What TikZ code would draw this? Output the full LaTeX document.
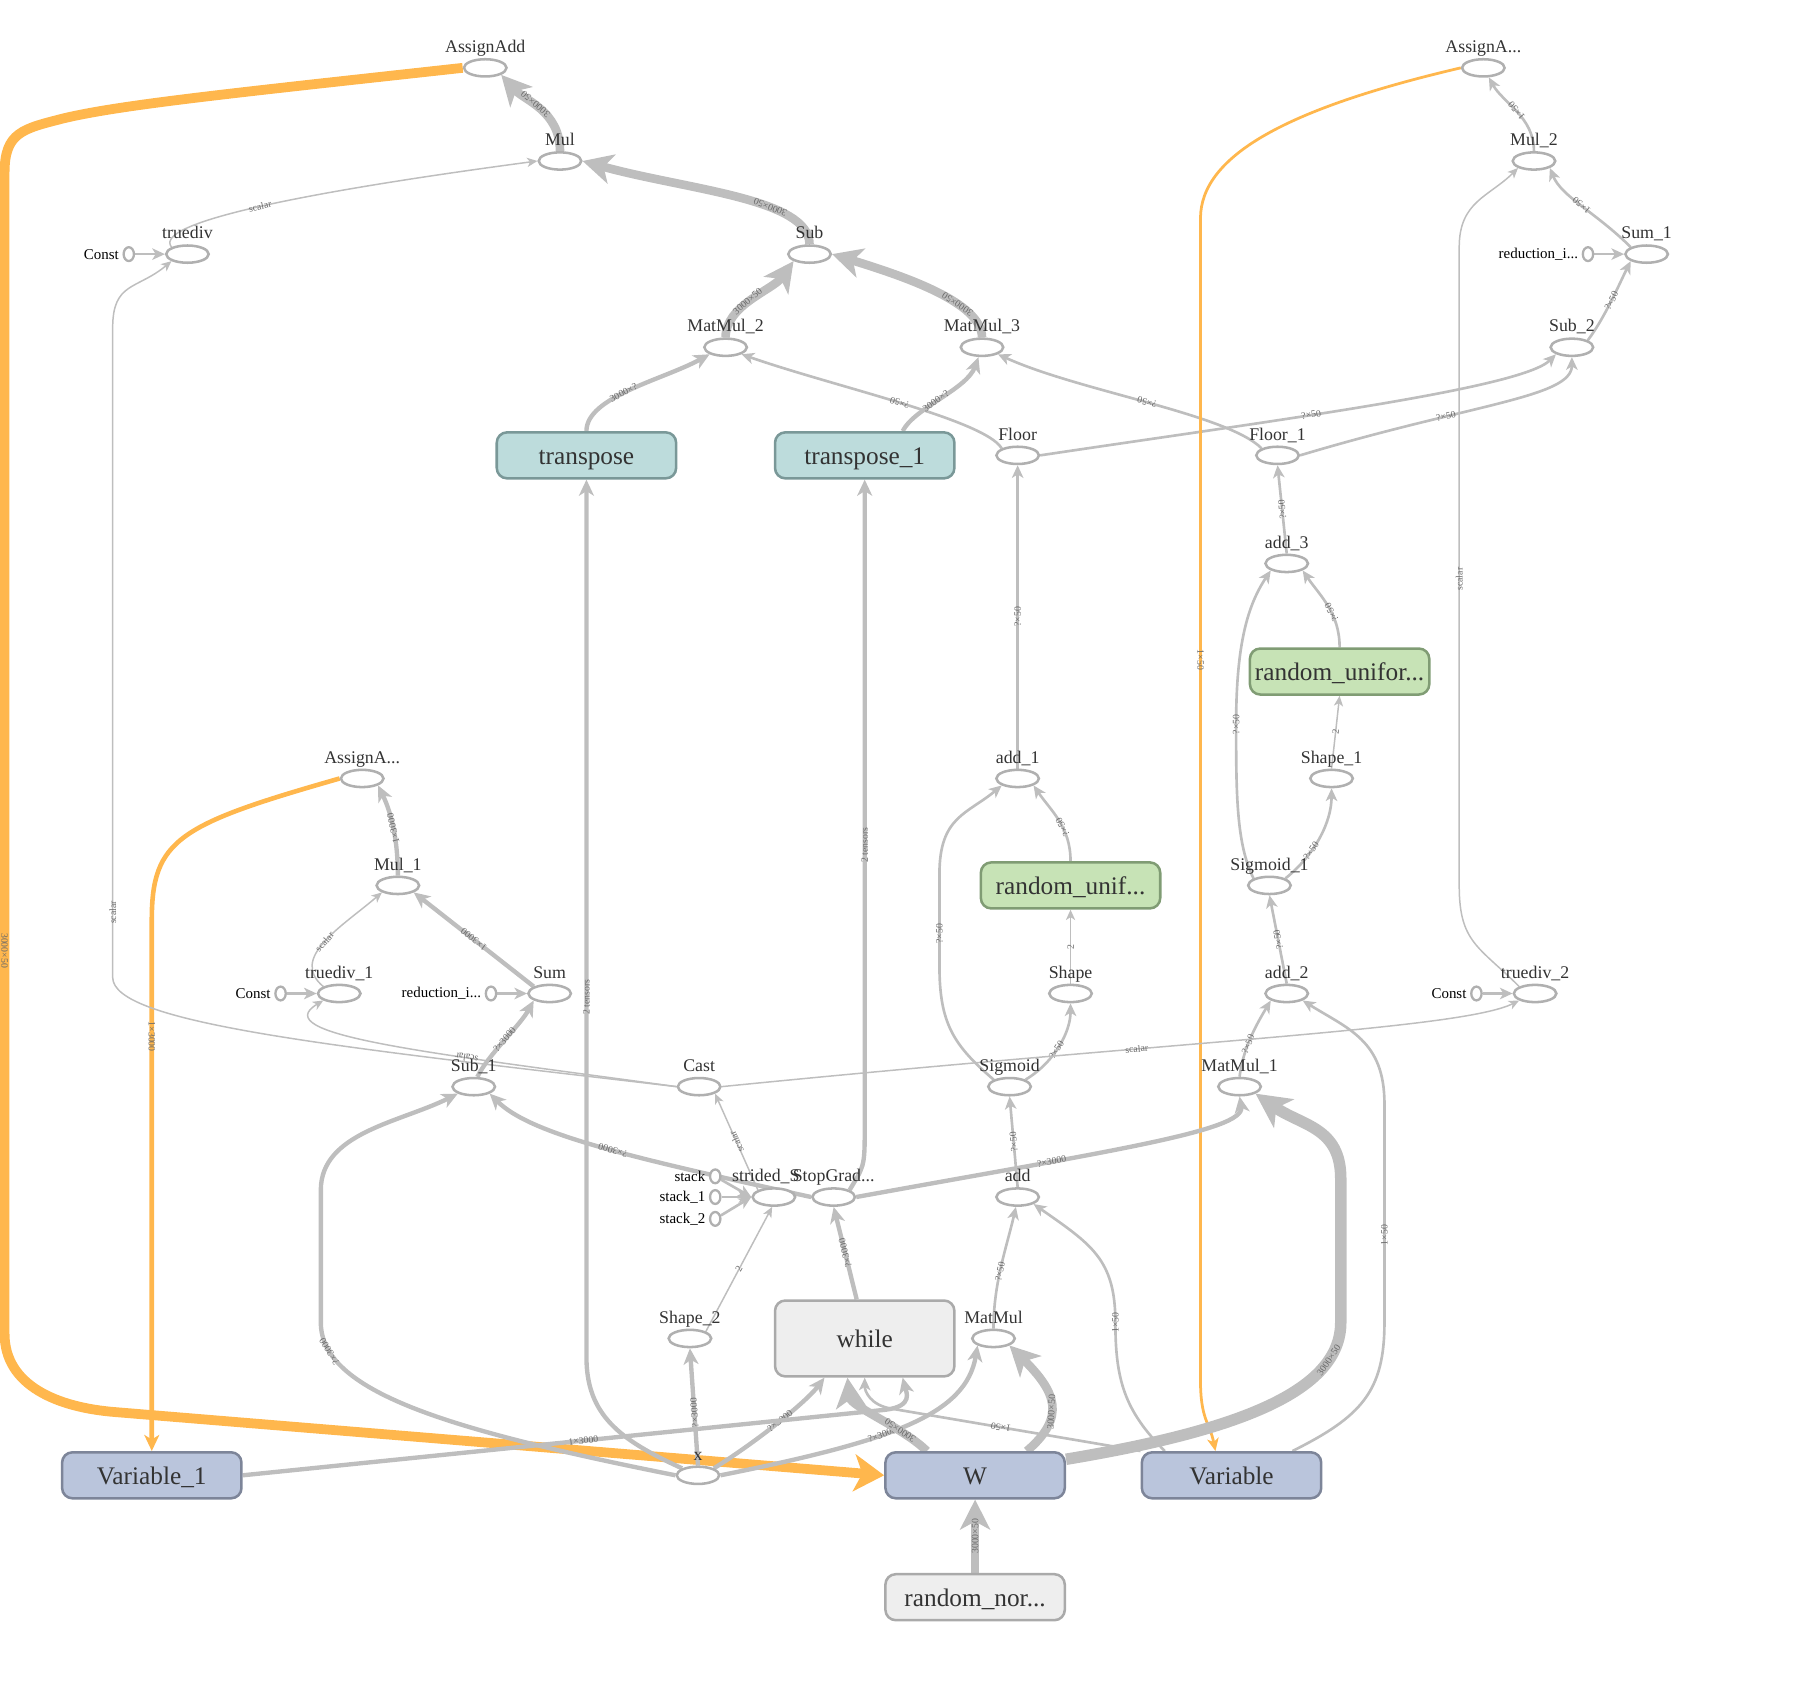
\documentclass[tikz,border=0pt]{standalone}
\usepackage{fontspec}
\setmainfont{Liberation Serif}
\usetikzlibrary{arrows.meta,positioning,shapes.geometric,backgrounds}
\definecolor{edgegray}{RGB}{190,190,190}
\definecolor{opline}{RGB}{176,176,176}
\definecolor{assignorange}{RGB}{255,183,77}
\definecolor{varfill}{RGB}{186,197,220}
\definecolor{varline}{RGB}{125,133,153}
\definecolor{tealfill}{RGB}{189,220,220}
\definecolor{tealline}{RGB}{122,152,152}
\definecolor{greenfill}{RGB}{199,227,182}
\definecolor{greenline}{RGB}{128,156,116}
\definecolor{grayfill}{RGB}{238,238,238}
\definecolor{grayline}{RGB}{170,170,170}
\definecolor{nametext}{RGB}{51,51,51}
\definecolor{shapetext}{RGB}{105,105,105}
\tikzset{
  font={\fontsize{15.5pt}{16}\selectfont}}

\begin{document}
\begin{tikzpicture}[x=1pt, y=-1pt,
    op_node/.style ={ellipse, draw=opline, fill=white, line width=2.2pt,
      minimum width=37pt, minimum height=15pt, inner sep=0pt},
    const_node/.style ={ellipse, draw=opline, fill=white, line width=2pt,
      minimum width=9pt, minimum height=12pt, inner sep=0pt},
    op_label/.style ={inner sep=0pt, text depth=3.5pt, text=nametext,
      font={\fontsize{15.5pt}{16}\selectfont}, label distance=1pt},
    const_label/.style ={inner sep=0pt, text=black,
      font={\fontsize{13pt}{13}\selectfont}, label distance=3pt},
    block_var/.style ={rectangle, rounded corners=9pt, draw=varline, fill=varfill,
      line width=2.2pt, minimum width=156pt, minimum height=40pt, text=nametext,
      text height=15.4pt, text depth=0pt,
      font={\fontsize{22pt}{22}\selectfont}},
    block_teal/.style ={block_var, draw=tealline, fill=tealfill},
    block_green/.style ={block_var, draw=greenline, fill=greenfill},
    block_gray/.style ={block_var, draw=grayline, fill=grayfill},
    shape_label/.style ={sloped, allow upside down, inner sep=0.5pt, text=shapetext,
      font={\fontsize{8.5pt}{9}\selectfont}},
    edge_a/.style ={draw=edgegray, line width=1.3pt,
      arrows={-Stealth[length=9pt, width=8pt, inset=2.5pt]}},
    edge_b/.style ={draw=edgegray, line width=2.3pt,
      arrows={-Stealth[length=11pt, width=10pt, inset=3pt]}},
    edge_c/.style ={draw=edgegray, line width=3.8pt,
      arrows={-Stealth[length=14pt, width=13pt, inset=4pt]}},
    edge_d/.style ={draw=edgegray, line width=7.5pt,
      arrows={-Stealth[length=26pt, width=26pt, inset=7pt]}},
    edge_e/.style ={draw=edgegray, line width=10pt,
      arrows={-Stealth[length=30pt, width=30pt, inset=8pt]}},
    ref_b/.style ={draw=assignorange, line width=2.4pt,
      arrows={-Stealth[length=11pt, width=10pt, inset=3pt]}},
    ref_c/.style ={draw=assignorange, line width=4pt,
      arrows={-Stealth[length=14pt, width=13pt, inset=4pt]}},
    ref_d/.style ={draw=assignorange, line width=8.5pt,
      arrows={-Stealth[length=26pt, width=32pt, inset=7pt]}}]
    \useasboundingbox (0,0) rectangle (1568,1483);
    % update of W (top left)
    \node[op_node, label={[op_label]above:AssignAdd}] (AssignAdd) at (422,59) {};
    \node[op_node, label={[op_label]above:Mul}] (Mul) at (487,140) {};
    \node[op_node, label={[op_label]above:truediv}] (truediv) at (163,221) {};
    \node[const_node, label={[const_label]left:Const}] (const_a) at (112,221) {};
    \node[op_node, label={[op_label]above:Sub}] (Sub) at (704,221) {};
    \node[op_node, label={[op_label]above:MatMul\_2}] (MatMul_2) at (631,302) {};
    \node[op_node, label={[op_label]above:MatMul\_3}] (MatMul_3) at (854,302) {};
    \node[block_teal] (transpose) at (510,396) {transpose};
    \node[block_teal] (transpose_1) at (752,396) {transpose\_1};
    \node[op_node, label={[op_label]above:Floor}] (Floor) at (885,396) {};
    \node[op_node, label={[op_label]above:Floor\_1}] (Floor_1) at (1111,396) {};
    % update of Variable (top right)
    \node[op_node, label={[op_label]above:AssignA...}] (AssignA_r) at (1290,59) {};
    \node[op_node, label={[op_label]above:Mul\_2}] (Mul_2) at (1334,140) {};
    \node[op_node, label={[op_label]above:Sum\_1}] (Sum_1) at (1432,221) {};
    \node[const_node, label={[const_label]left:reduction\_i...}] (red_a) at (1381,221) {};
    \node[op_node, label={[op_label]above:Sub\_2}] (Sub_2) at (1367,302) {};
    % hidden sample chain
    \node[op_node, label={[op_label]above:add\_3}] (add_3) at (1119,490) {};
    \node[block_green] (random_unifor) at (1165,584) {random\_unifor...};
    \node[op_node, label={[op_label]above:Shape\_1}] (Shape_1) at (1158,677) {};
    \node[op_node, label={[op_label]above:Sigmoid\_1}] (Sigmoid_1) at (1104,770) {};
    \node[op_node, label={[op_label]above:add\_2}] (add_2) at (1119,864) {};
    \node[op_node, label={[op_label]above:truediv\_2}] (truediv_2) at (1335,864) {};
    \node[const_node, label={[const_label]left:Const}] (const_c) at (1284,864) {};
    \node[op_node, label={[op_label]above:MatMul\_1}] (MatMul_1) at (1078,945) {};
    \node[op_node, label={[op_label]above:add\_1}] (add_1) at (885,677) {};
    \node[block_green] (random_unif) at (931,770) {random\_unif...};
    \node[op_node, label={[op_label]above:Shape}] (Shape) at (931,864) {};
    \node[op_node, label={[op_label]above:Sigmoid}] (Sigmoid) at (878,945) {};
    \node[op_node, label={[op_label]above:add}] (add) at (885,1041) {};
    \node[op_node, label={[op_label]above:MatMul}] (MatMul) at (864,1164) {};
    % update of Variable_1 (middle left)
    \node[op_node, label={[op_label]above:AssignA...}] (AssignA_l) at (315,677) {};
    \node[op_node, label={[op_label]above:Mul\_1}] (Mul_1) at (346,770) {};
    \node[op_node, label={[op_label]above:truediv\_1}] (truediv_1) at (295,864) {};
    \node[const_node, label={[const_label]left:Const}] (const_b) at (244,864) {};
    \node[op_node, label={[op_label]above:Sum}] (Sum) at (478,864) {};
    \node[const_node, label={[const_label]left:reduction\_i...}] (red_b) at (427,864) {};
    \node[op_node, label={[op_label]above:Sub\_1}] (Sub_1) at (412,945) {};
    \node[op_node, label={[op_label]above:Cast}] (Cast) at (608,945) {};
    \node[op_node, label={[op_label, xshift=-7pt]above:strided\_S}] (strided) at (673,1041) {};
    \node[const_node, label={[const_label]left:stack}] (stack) at (622,1023) {};
    \node[const_node, label={[const_label]left:stack\_1}] (stack_1) at (622,1041) {};
    \node[const_node, label={[const_label]left:stack\_2}] (stack_2) at (622,1060) {};
    \node[op_node, label={[op_label]above:StopGrad...}] (StopGrad) at (725,1041) {};
    \node[op_node, label={[op_label]above:Shape\_2}] (Shape_2) at (600,1164) {};
    \node[block_gray, minimum height=66pt] (while) at (752,1164) {while};
    % inputs and variables (bottom)
    \node[op_node, label={[op_label]above:x}] (x) at (607,1283) {};
    \node[block_var] (Variable_1) at (132,1283) {Variable\_1};
    \node[block_var] (W) at (848,1283) {W};
    \node[block_var] (Variable) at (1071,1283) {Variable};
    \node[block_gray] (random_nor) at (848,1389) {random\_nor...};
    % connecting nodes with paths
    \begin{scope}[on background layer]
      % top left
      \path[edge_d] (Mul.north) .. controls +(0,-35) and +(20,22) .. (AssignAdd.south east)
        node[shape_label, pos=.55] {3000×50};
      \path[edge_d] (Sub.north) .. controls +(0,-40) and +(90,25) .. (Mul.east)
        node[shape_label, pos=.35] {3000×50};
      \path[edge_a] (truediv.north west) .. controls +(-20,-25) and +(-150,20) .. (Mul.west)
        node[shape_label, pos=.45] {scalar};
      \path[edge_b] (const_a) -- (truediv);
      \path[edge_d] (MatMul_2.north) .. controls +(0,-28) and +(-18,25) .. (Sub.south west)
        node[shape_label, pos=.45] {3000×50};
      \path[edge_d] (MatMul_3.north) .. controls +(0,-30) and +(65,20) .. (Sub.east)
        node[shape_label, pos=.35] {3000×50};
      \path[edge_c] (transpose.north) .. controls +(0,-30) and +(-40,22) .. (MatMul_2.south west)
        node[shape_label, pos=.45] {3000×?};
      \path[edge_b] (Floor.north west) .. controls +(-15,-25) and +(80,28) .. (MatMul_2.south east)
        node[shape_label, pos=.5] {?×50};
      \path[edge_c] ([xshift=33pt]transpose_1.north) .. controls +(10,-20) and +(-10,28) .. (MatMul_3.-110)
        node[shape_label, pos=.45] {3000×?};
      \path[edge_b] (Floor_1.north west) .. controls +(-30,-30) and +(70,32) .. (MatMul_3.south east)
        node[shape_label, pos=.5] {?×50};
      \path[edge_b] (Floor.east) .. controls +(200,-30) and +(-30,30) .. (Sub_2.south west)
        node[shape_label, pos=.4] {?×50};
      \path[edge_b] (Floor_1.east) .. controls +(150,-45) and +(0,35) .. (Sub_2.south)
        node[shape_label, pos=.33] {?×50};
      % top right
      \path[edge_b] (Sub_2.north east) .. controls +(15,-20) and +(-10,20) .. (Sum_1.south west)
        node[shape_label, pos=.5] {?×50};
      \path[edge_b] (red_a) -- (Sum_1);
      \path[edge_b] (Sum_1.north west) .. controls +(-30,-30) and +(10,25) .. (Mul_2.south east)
        node[shape_label, pos=.5] {1×50};
      \path[edge_b] (Mul_2.north) .. controls +(0,-30) and +(12,22) .. (AssignA_r.-60)
        node[shape_label, pos=.5] {1×50};
      \path[edge_a] (truediv_2.north west) .. controls +(-35,-35) and +(0,50) .. (1269,770)
        -- (1269,215) node[shape_label, pos=.48] {scalar}
        .. controls +(0,-40) and +(-25,25) .. (Mul_2.south west);
      \path[ref_b] (AssignA_r.west) .. controls +(-150,35) and +(0,-55) .. (1044,190)
        -- (1044,1200) node[shape_label, pos=.38] {1×50}
        .. controls +(0,35) and +(-5,-25) .. ([xshift=-14pt]Variable.north);
      % sampling chains
      \path[edge_b] (add_3.north) -- (Floor_1.south) node[shape_label, pos=.5] {?×50};
      \path[edge_b] (Sigmoid_1.north west) .. controls +(-15,-30) and +(0,60) .. (1075,630)
        node[shape_label, pos=1] {?×50}
        .. controls +(0,-70) and +(-20,30) .. (add_3.south west);
      \path[edge_b] (random_unifor.north) .. controls +(0,-30) and +(15,22) .. (add_3.south east)
        node[shape_label, pos=.4] {?×50};
      \path[edge_a] (Shape_1.north) -- (random_unifor.south) node[shape_label, pos=.5] {2};
      \path[edge_b] (Sigmoid_1.north east) .. controls +(25,-20) and +(0,30) .. (Shape_1.south)
        node[shape_label, pos=.35] {?×50};
      \path[edge_b] (add_2.north) -- (Sigmoid_1.south) node[shape_label, pos=.5] {?×50};
      \path[edge_b] (MatMul_1.north) .. controls +(3,-25) and +(-12,20) .. (add_2.south west)
        node[shape_label, pos=.4] {?×50};
      \path[edge_b] ([xshift=53pt]Variable.north) .. controls +(60,-30) and +(0,60) .. (1204,1150)
        -- (1204,960) node[shape_label, pos=.4] {1×50}
        .. controls +(0,-55) and +(40,25) .. (add_2.south east);
      \path[edge_b] (add_1.north) -- (Floor.south) node[shape_label, pos=.5] {?×50};
      \path[edge_b] (Sigmoid.north west) .. controls +(-35,-30) and +(0,50) .. (817,840)
        -- (817,760) node[shape_label, pos=.35] {?×50}
        .. controls +(0,-50) and +(-30,25) .. (add_1.south west);
      \path[edge_b] (random_unif.north) .. controls +(0,-30) and +(15,22) .. (add_1.south east)
        node[shape_label, pos=.4] {?×50};
      \path[edge_a] (Shape.north) -- (random_unif.south) node[shape_label, pos=.5] {2};
      \path[edge_b] (Sigmoid.north east) .. controls +(25,-15) and +(0,25) .. (Shape.south)
        node[shape_label, pos=.45] {?×50};
      \path[edge_b] (add.north) -- (Sigmoid.south) node[shape_label, pos=.5] {?×50};
      \path[edge_b] (MatMul.north) .. controls +(0,-40) and +(-8,35) .. (add.-100)
        node[shape_label, pos=.45] {?×50};
      \path[edge_b] ([xshift=-58pt]Variable.north) .. controls +(-35,-35) and +(0,50) .. (970,1150)
        node[shape_label, pos=1] {1×50}
        .. controls +(0,-55) and +(50,35) .. (add.south east);
      % middle left
      \path[edge_c] (Sub_1.70) .. controls +(10,-20) and +(-12,22) .. (Sum.south west)
        node[shape_label, pos=.5] {?×3000};
      \path[edge_b] (red_b) -- (Sum);
      \path[edge_b] (const_b) -- (truediv_1);
      \path[edge_b] (const_c) -- (truediv_2);
      \path[edge_c] (Sum.north west) -- (Mul_1.south east) node[shape_label, pos=.5] {1×3000};
      \path[edge_a] (truediv_1.north west) .. controls +(-30,-25) and +(-35,30) .. (Mul_1.south west)
        node[shape_label, pos=.5] {scalar};
      \path[edge_c] (Mul_1.north) .. controls +(0,-30) and +(12,25) .. (AssignA_l.south east)
        node[shape_label, pos=.5] {1×3000};
      \path[ref_c] (AssignA_l.west) .. controls +(-140,40) and +(0,-70) .. (132,800)
        -- (Variable_1.north) node[shape_label, pos=.22] {1×3000};
      \path[ref_d] (AssignAdd.west) .. controls +(-200,22) and +(50,-12) .. (55,103)
        .. controls +(-35,9) and +(0,-35) .. (4,150)
        -- (4,1160) node[shape_label, pos=.67] {3000×50}
        .. controls +(0,45) and +(-50,-4) .. (100,1228)
        -- (W.west);
      % strided slice and cast
      \path[edge_a] (Shape_2.north east) -- (strided.-100) node[shape_label, pos=.5] {2};
      \path[edge_b] (stack) -- (strided.west);
      \path[edge_b] (stack_1) -- (strided.west);
      \path[edge_b] (stack_2) -- (strided.west);
      \path[edge_a] (strided.north west) -- (Cast.south east) node[shape_label, pos=.5] {scalar};
      \path[edge_a] (Cast.west) .. controls +(-300,-35) and +(0,40) .. (98,850)
        -- (98,285) node[shape_label, pos=.1] {scalar}
        .. controls +(0,-40) and +(-30,25) .. (truediv.south west);
      \path[edge_a] (Cast.west) .. controls +(-220,-30) and +(-50,30) .. (truediv_1.south west)
        node[shape_label, pos=.32] {scalar};
      \path[edge_a] (Cast.east) .. controls +(400,-40) and +(-50,25) .. (truediv_2.south west)
        node[shape_label, pos=.35] {scalar};
      \path[edge_c] (StopGrad.west) .. controls +(-160,-35) and +(35,35) .. (Sub_1.south east)
        node[shape_label, pos=.45] {?×3000};
      \path[edge_c] (StopGrad.east) .. controls +(220,-40) and +(5,30) .. (MatMul_1.south)
        node[shape_label, pos=.3] {?×3000};
      \path[edge_c] ([xshift=-7pt]while.north) -- (StopGrad.south) node[shape_label, pos=.5] {?×3000};
      \path[edge_c] (StopGrad.north east) .. controls +(12,-20) and +(0,30) .. (752,985)
        -- (transpose_1.south) node[shape_label, pos=.44] {2 tensors};
      % bottom
      \path[edge_c] (x.north west) .. controls +(-55,-25) and +(0,50) .. (510,1180)
        -- (transpose.south) node[shape_label, pos=.41] {2 tensors};
      \path[edge_c] (x.west) .. controls +(-200,-40) and +(0,60) .. (279,1150)
        node[shape_label, pos=.85] {?×3000}
        -- (279,1035)
        .. controls +(0,-50) and +(-50,25) .. (Sub_1.south west);
      \path[edge_c] (x.north) -- (Shape_2.south) node[shape_label, pos=.45] {?×3000};
      \path[edge_c] (x.north east) .. controls +(40,-25) and +(-15,20) .. ([xshift=-35pt]while.south)
        node[shape_label, pos=.5] {?×3000};
      \path[edge_c] (x.east) .. controls +(150,-30) and +(-10,60) .. (MatMul.south west)
        node[shape_label, pos=.4] {?×3000};
      \path[edge_c] (Variable_1.east) -- (770,1226) node[shape_label, pos=.53] {1×3000}
        .. controls +(25,-3) and +(3,12) .. ([xshift=33pt]while.south);
      \path[edge_d] ([xshift=-42pt]W.north) .. controls +(-20,-20) and +(3,25) .. ([xshift=-15pt]while.south)
        node[shape_label, pos=.3] {3000×50};
      \path[edge_b] (Variable.north west) -- (775,1225) node[shape_label, pos=.56] {1×50}
        .. controls +(-18,-3) and +(0,12) .. (while.south);
      \path[edge_d] ([xshift=45pt]W.north) .. controls +(35,-30) and +(40,40) .. (MatMul.south east)
        node[shape_label, pos=.4] {3000×50};
      \path[edge_e] (W.10) .. controls +(150,-25) and +(0,60) .. (1166,1150)
        node[shape_label, pos=.8] {3000×50}
        -- (1166,1025)
        .. controls +(0,-45) and +(40,28) .. (MatMul_1.south east);
      \path[edge_d] (random_nor.north) -- (W.south) node[shape_label, pos=.5] {3000×50};
    \end{scope}
  \end{tikzpicture}
\end{document}
